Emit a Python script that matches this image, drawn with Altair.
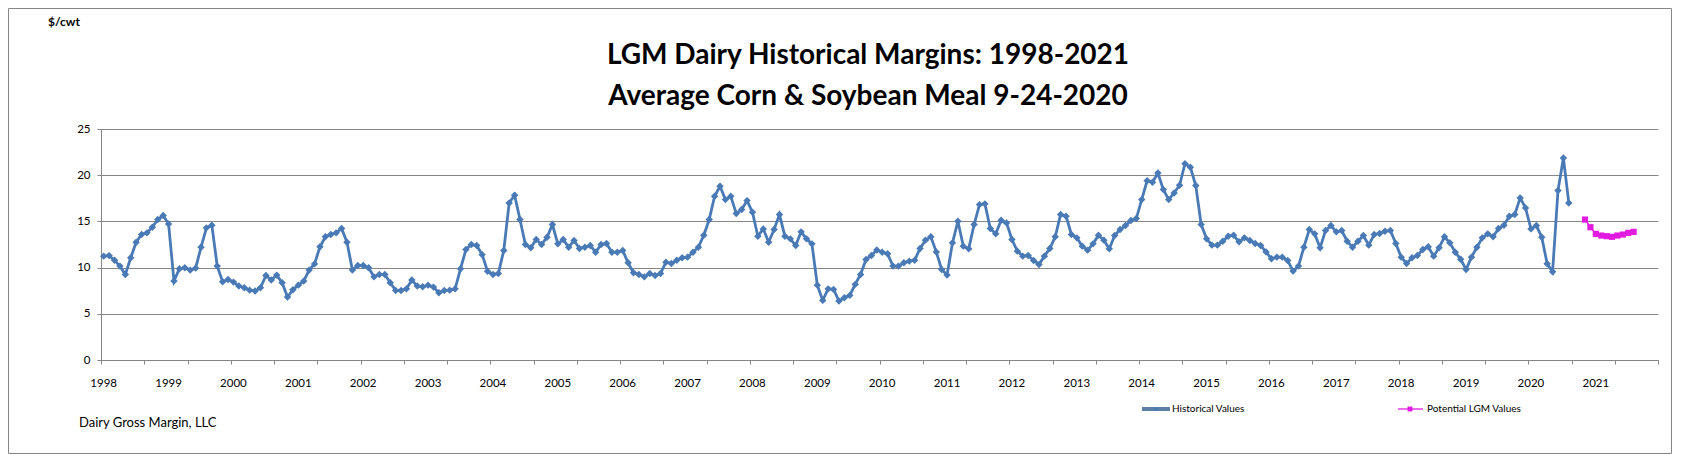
import altair as alt
import pandas as pd

# ---------------- data ----------------
years = list(range(1998, 2022))

hist_1998 = [11.24, 11.3, 10.8, 10.16, 9.26, 11.06, 12.75, 13.58, 13.76, 14.37, 15.2, 15.63]
hist_1999 = [14.73, 8.54, 9.87, 9.98, 9.73, 9.94, 12.2, 14.3, 14.59, 10.16, 8.47, 8.72]
hist_2000 = [8.43, 8.0, 7.82, 7.56, 7.46, 7.82, 9.15, 8.65, 9.19, 8.36, 6.81, 7.6]
hist_2001 = [8.1, 8.54, 9.73, 10.4, 12.25, 13.33, 13.58, 13.76, 14.23, 12.75, 9.73, 10.23]
hist_2002 = [10.23, 9.98, 9.0, 9.26, 9.26, 8.36, 7.53, 7.53, 7.7, 8.65, 8.0, 7.93]
hist_2003 = [8.1, 7.89, 7.28, 7.53, 7.56, 7.7, 9.87, 11.96, 12.5, 12.39, 11.4, 9.6]
hist_2004 = [9.26, 9.37, 11.85, 17.0, 17.83, 15.2, 12.5, 12.14, 13.04, 12.5, 13.29, 14.66]
hist_2005 = [12.57, 13.04, 12.21, 12.93, 12.07, 12.21, 12.39, 11.67, 12.5, 12.6, 11.67, 11.67]
hist_2006 = [11.85, 10.52, 9.44, 9.26, 9.0, 9.37, 9.15, 9.37, 10.59, 10.45, 10.8, 11.06]
hist_2007 = [11.13, 11.67, 12.21, 13.5, 15.2, 17.72, 18.8, 17.36, 17.72, 15.85, 16.28, 17.25]
hist_2008 = [16.0, 13.4, 14.19, 12.75, 14.12, 15.74, 13.4, 13.11, 12.39, 13.87, 13.11, 12.57]
hist_2009 = [8.1, 6.45, 7.7, 7.64, 6.38, 6.74, 6.99, 8.18, 9.26, 10.88, 11.31, 11.9]
hist_2010 = [11.67, 11.49, 10.16, 10.16, 10.52, 10.7, 10.8, 12.07, 12.97, 13.33, 11.7, 9.8]
hist_2011 = [9.19, 12.68, 15.02, 12.32, 12.03, 14.66, 16.82, 16.9, 14.23, 13.65, 15.13, 14.84]
hist_2012 = [13.04, 11.78, 11.24, 11.31, 10.77, 10.34, 11.24, 12.07, 13.33, 15.74, 15.56, 13.58]
hist_2013 = [13.22, 12.32, 11.89, 12.57, 13.5, 12.97, 12.03, 13.47, 14.12, 14.55, 15.09, 15.31]
hist_2014 = [17.36, 19.4, 19.24, 20.24, 18.44, 17.36, 18.08, 18.91, 21.25, 20.86, 18.88, 14.66]
hist_2015 = [13.11, 12.43, 12.43, 12.86, 13.4, 13.5, 12.79, 13.22, 12.93, 12.6, 12.39, 11.7]
hist_2016 = [10.95, 11.13, 11.13, 10.77, 9.62, 10.16, 12.21, 14.12, 13.65, 12.14, 14.01, 14.55]
hist_2017 = [13.87, 14.01, 12.86, 12.21, 12.86, 13.47, 12.43, 13.58, 13.69, 13.94, 14.01, 12.6]
hist_2018 = [11.13, 10.45, 11.06, 11.31, 11.96, 12.25, 11.24, 12.14, 13.33, 12.68, 11.67, 10.9]
hist_2019 = [9.8, 11.13, 12.21, 13.22, 13.65, 13.33, 14.23, 14.59, 15.56, 15.74, 17.54, 16.46]
hist_2020 = [14.19, 14.55, 13.29, 10.41, 9.55, 18.34, 21.87, 17.0]

# Potential LGM values, Nov 2020 - Aug 2021
lgm_values = [15.2, 14.37, 13.65, 13.47, 13.4, 13.33, 13.47, 13.58, 13.76, 13.87]
lgm_first_month = "2020-11"

hist_values = (hist_1998 + hist_1999 + hist_2000 + hist_2001 + hist_2002 + hist_2003
               + hist_2004 + hist_2005 + hist_2006 + hist_2007 + hist_2008 + hist_2009
               + hist_2010 + hist_2011 + hist_2012 + hist_2013 + hist_2014 + hist_2015
               + hist_2016 + hist_2017 + hist_2018 + hist_2019 + hist_2020)

title_lines = ["LGM Dairy Historical Margins: 1998-2021",
               "Average Corn & Soybean Meal 9-24-2020"]
y_unit = "$/cwt"
footer = "Dairy Gross Margin, LLC"
legend_labels = ["Historical Values", "Potential LGM Values"]

# ---------------- frames ----------------
def month_index(ym):
    y, m = ym.split("-")
    return (int(y) - years[0]) * 12 + int(m) - 1

n_months = len(years) * 12
df_hist = pd.DataFrame({"m": [i + 0.5 for i in range(len(hist_values))],
                        "v": hist_values})
s0 = month_index(lgm_first_month)
df_lgm = pd.DataFrame({"m": [s0 + i + 0.5 for i in range(len(lgm_values))],
                       "v": lgm_values})
df_years = pd.DataFrame({"m": [(y - years[0]) * 12 + 0.5 for y in years],
                         "label": [str(y) for y in years]})

# ---------------- styling ----------------
W, H = 1557, 231
PL, PT, PR, PB = 93, 121, 14, 94
GRAY = "#868686"
BLUE = "#4A7AB5"
MAG = "#E21BE0"
FONT = "Lato"

x_scale = alt.Scale(domain=[0, n_months], nice=False, zero=False)
y_scale = alt.Scale(domain=[0, 25], nice=False)

x_axis = alt.Axis(
    values=list(range(0, n_months + 1)), labels=False,
    grid=False, tickSize=4, tickColor=GRAY, domainColor=GRAY, title=None,
)
y_axis = alt.Axis(
    values=[0, 5, 10, 15, 20, 25], grid=True, gridColor=GRAY, gridWidth=1,
    tickSize=4, tickColor=GRAY, domainColor=GRAY, labelPadding=7,
    labelFontSize=11.5, labelFont=FONT, labelColor="#000000", title=None,
)

base_h = alt.Chart(df_hist).encode(
    x=alt.X("m:Q", scale=x_scale, axis=x_axis),
    y=alt.Y("v:Q", scale=y_scale, axis=y_axis),
)
hist_line = base_h.mark_line(color=BLUE, strokeWidth=2.8)
hist_pts = base_h.mark_point(shape="diamond", filled=True, size=55, color=BLUE, opacity=1)

base_l = alt.Chart(df_lgm).encode(x=alt.X("m:Q", scale=x_scale), y=alt.Y("v:Q", scale=y_scale))
lgm_line = base_l.mark_line(color=MAG, strokeWidth=1.5)
lgm_pts = base_l.mark_point(shape="square", filled=True, size=38, color=MAG, opacity=1)

year_labels = alt.Chart(df_years).mark_text(
    font=FONT, fontSize=11.5, align="center", baseline="middle", color="#000000"
).encode(x=alt.X("m:Q", scale=x_scale), y=alt.value(H + 24), text="label:N")

one = alt.Data(values=[{"k": 1}])

def txt(text, x, y, size, weight="normal", align="left"):
    return alt.Chart(one).mark_text(
        text=text, font=FONT, fontSize=size, fontWeight=weight, align=align,
        baseline="middle", color="#000000"
    ).encode(x=alt.value(x), y=alt.value(y))

title1 = txt(title_lines[0], 767, -73, 28, "bold", "center")
title2 = txt(title_lines[1], 767, -32, 28, "bold", "center")
unit = txt(y_unit, -53, -107, 12, "bold")
foot = txt(footer, -22, 294, 13)

# legend
leg_y = 280
leg1_line = alt.Chart(one).mark_rule(color="#5B7FA6", strokeWidth=4).encode(
    x=alt.value(1041), x2=alt.value(1069), y=alt.value(leg_y))
leg1_pt = alt.Chart(one).mark_point(shape="diamond", filled=True, size=20, color=BLUE, opacity=1).encode(
    x=alt.value(1055), y=alt.value(leg_y))
leg1_txt = txt(legend_labels[0], 1071, leg_y, 10)
leg2_line = alt.Chart(one).mark_rule(color=MAG, strokeWidth=1.3).encode(
    x=alt.value(1297), x2=alt.value(1322), y=alt.value(leg_y))
leg2_pt = alt.Chart(one).mark_point(shape="square", filled=True, size=24, color=MAG, opacity=1).encode(
    x=alt.value(1309), y=alt.value(leg_y))
leg2_txt = txt(legend_labels[1], 1326, leg_y, 10)

frame = alt.Chart(one).mark_rect(fillOpacity=0, stroke=GRAY, strokeWidth=1).encode(
    x=alt.value(-PL + 0.5), x2=alt.value(W + PR - 0.5),
    y=alt.value(-PT + 0.5), y2=alt.value(H + PB - 0.5))

chart = alt.layer(
    hist_line, hist_pts, lgm_line, lgm_pts, year_labels,
    title1, title2, unit, foot,
    leg1_line, leg1_pt, leg1_txt, leg2_line, leg2_pt, leg2_txt, frame,
).properties(
    width=W, height=H,
    autosize=alt.AutoSizeParams(type="none"),
    padding={"left": PL, "top": PT, "right": PR, "bottom": PB},
    background="#FFFFFF",
).configure_view(stroke="transparent")

chart.save("out.html", embed_options={"renderer": "svg", "actions": False})
